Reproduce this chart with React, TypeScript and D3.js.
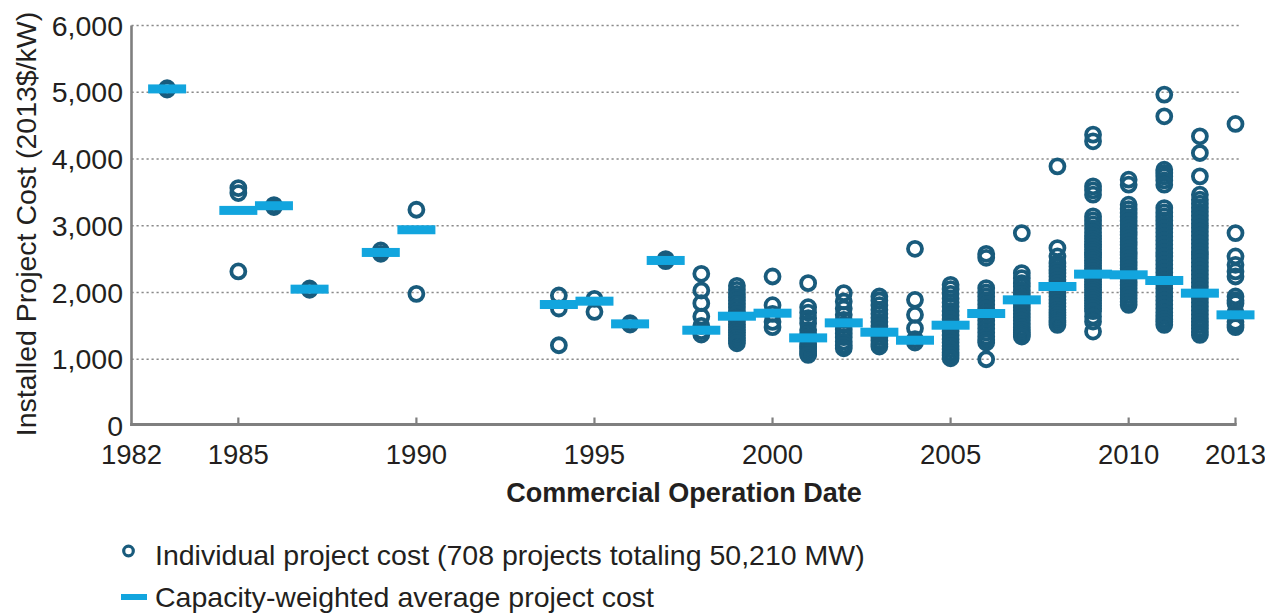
import React from "react";
import * as d3 from "d3";

// ---- data ----
const avgYears = [1983, 1985, 1986, 1987, 1989, 1990, 1994, 1995, 1996, 1997, 1998, 1999, 2000, 2001, 2002, 2003, 2004, 2005, 2006, 2007, 2008, 2009, 2010, 2011, 2012, 2013];
const avgCost = [5050, 3230, 3300, 2050, 2600, 2940, 1820, 1870, 1530, 2480, 1435, 1645, 1690, 1320, 1545, 1405, 1285, 1510, 1685, 1890, 2090, 2275, 2265, 2180, 1990, 1665];

const projectYears = avgYears;
const projectCosts: number[][] = [
  [5060, 5040],
  [3565, 3490, 2315],
  [3310, 3280],
  [2060, 2040],
  [2630, 2580],
  [3240, 1980],
  [1955, 1760, 1210],
  [1905, 1710],
  [1540, 1520],
  [2500, 2470],
  [2280, 2030, 1840, 1640, 1500, 1420, 1370],
  [2100, 2040, 1980, 1930, 1880, 1830, 1780, 1720, 1680, 1620, 1570, 1520, 1480, 1440, 1400, 1360, 1320, 1280, 1240],
  [2240, 1810, 1680, 1560, 1480],
  [2140, 1780, 1700, 1615, 1540, 1440, 1380, 1330, 1290, 1230, 1190, 1165, 1120, 1090, 1065],
  [1990, 1865, 1760, 1665, 1590, 1515, 1450, 1390, 1330, 1265, 1210, 1165],
  [1940, 1880, 1810, 1740, 1680, 1620, 1560, 1500, 1440, 1380, 1330, 1280, 1230, 1190],
  [2655, 1890, 1665, 1465, 1300, 1250],
  [2115, 2050, 1980, 1910, 1850, 1790, 1720, 1660, 1600, 1540, 1480, 1420, 1360, 1300, 1250, 1200, 1150, 1100, 1060, 1015],
  [2580, 2520, 2065, 2000, 1940, 1880, 1820, 1760, 1700, 1640, 1580, 1520, 1460, 1400, 1340, 1290, 1250, 1000],
  [2890, 2290, 2215, 2140, 2090, 2030, 1980, 1930, 1880, 1830, 1780, 1730, 1680, 1630, 1580, 1530, 1480, 1440, 1400, 1370, 1340],
  [3890, 2665, 2540, 2440, 2390, 2340, 2290, 2240, 2190, 2140, 2090, 2040, 1990, 1940, 1890, 1840, 1790, 1740, 1700, 1660, 1620, 1580, 1550, 1515],
  [4365, 4265, 3590, 3530, 3465, 3140, 3080, 3020, 2960, 2900, 2850, 2800, 2760, 2720, 2680, 2640, 2600, 2560, 2520, 2480, 2440, 2400, 2360, 2320, 2280, 2240, 2200, 2160, 2120, 2080, 2040, 2000, 1960, 1920, 1880, 1840, 1800, 1760, 1720, 1640, 1565, 1415],
  [3690, 3615, 3315, 3250, 3190, 3130, 3070, 3010, 2960, 2910, 2860, 2810, 2760, 2710, 2660, 2610, 2560, 2510, 2460, 2410, 2360, 2310, 2260, 2210, 2160, 2110, 2060, 2010, 1960, 1910, 1860, 1815],
  [4965, 4640, 3840, 3790, 3740, 3680, 3615, 3265, 3200, 3140, 3080, 3020, 2960, 2900, 2840, 2780, 2720, 2660, 2600, 2540, 2480, 2420, 2360, 2300, 2240, 2180, 2120, 2060, 2000, 1940, 1880, 1820, 1760, 1700, 1650, 1600, 1560, 1515],
  [4340, 4090, 3740, 3465, 3390, 3330, 3270, 3210, 3150, 3090, 3030, 2970, 2910, 2850, 2790, 2730, 2670, 2610, 2565, 2510, 2450, 2390, 2330, 2270, 2210, 2150, 2090, 2030, 1970, 1910, 1850, 1790, 1730, 1670, 1610, 1560, 1510, 1460, 1410, 1365],
  [4525, 2890, 2540, 2415, 2315, 2240, 1940, 1880, 1840, 1700, 1560, 1515, 1480],
];

const xTicks = [1982, 1985, 1990, 1995, 2000, 2005, 2010, 2013];
const yTicks = [0, 1000, 2000, 3000, 4000, 5000, 6000];

const yTitle = "Installed Project Cost (2013$/kW)";
const xTitle = "Commercial Operation Date";
const legendItems = [
  "Individual project cost (708 projects totaling 50,210 MW)",
  "Capacity-weighted average project cost",
];

// ---- styling ----
const W = 1265;
const H = 614;
const FONT = "'Liberation Sans', Arial, sans-serif";
const TEXT = "#231f20";
const DOT = "#195b7c";
const BAR = "#12a5de";
const AXIS = "#7f7f7f";

export default function App() {
  const x = d3.scaleLinear().domain([1982, 2013]).range([131.5, 1235.5]);
  const y = d3.scaleLinear().domain([0, 6000]).range([426, 25.5]);
  const fmt = d3.format(",");
  const axisY = 424.5;

  const points = projectYears.flatMap((yr, i) => projectCosts[i].map((c) => ({ yr, c })));

  return (
    <svg
      width={W}
      height={H}
      style={{ position: "absolute", left: 0, top: 0, background: "#fff" }}
      fontFamily={FONT}
    >
      {/* gridlines */}
      {yTicks.filter((t) => t > 0).map((t) => (
        <line key={t} x1={x(1982)} x2={1239} y1={y(t)} y2={y(t)} stroke="#8a8a8a" strokeWidth={1.3} strokeDasharray="2.2 2.8" />
      ))}
      {/* y tick labels */}
      {yTicks.map((t) => (
        <text key={t} x={123} y={y(t) + 10} textAnchor="end" fontSize={28.5} fill={TEXT}>
          {fmt(t)}
        </text>
      ))}
      {/* points */}
      {points.map((p, i) => (
        <circle key={i} cx={x(p.yr)} cy={y(p.c)} r={7} fill="none" stroke={DOT} strokeWidth={3.8} />
      ))}
      {/* averages */}
      {avgYears.map((yr, i) => (
        <rect key={yr} x={x(yr) - 19} y={y(avgCost[i]) - 4.5} width={38} height={9} fill={BAR} />
      ))}
      {/* axes */}
      <line x1={x(1982)} x2={x(1982)} y1={y(6000)} y2={axisY + 1.5} stroke={AXIS} strokeWidth={2.6} />
      <line x1={x(1982) - 1.3} x2={x(2013) + 1.2} y1={axisY} y2={axisY} stroke={AXIS} strokeWidth={3} />
      {xTicks.filter((t) => t > 1982).map((t) => (
        <line key={t} x1={x(t)} x2={x(t)} y1={axisY} y2={axisY - 7} stroke={AXIS} strokeWidth={2.2} />
      ))}
      {xTicks.map((t) => (
        <text key={t} x={x(t)} y={464} textAnchor="middle" fontSize={27.5} fill={TEXT}>
          {t}
        </text>
      ))}
      {/* titles */}
      <text x={684} y={502} textAnchor="middle" fontSize={27} fontWeight="bold" fill={TEXT}>
        {xTitle}
      </text>
      <text transform={`translate(36,224) rotate(-90)`} textAnchor="middle" fontSize={28.5} fill={TEXT}>
        {yTitle}
      </text>
      {/* legend */}
      <circle cx={128.5} cy={551} r={4.8} fill="none" stroke={DOT} strokeWidth={3.2} />
      <text x={155} y={565} fontSize={28.5} fill={TEXT}>{legendItems[0]}</text>
      <rect x={121} y={594} width={26} height={6} fill={BAR} />
      <text x={155} y={607} fontSize={28.5} fill={TEXT}>{legendItems[1]}</text>
    </svg>
  );
}
